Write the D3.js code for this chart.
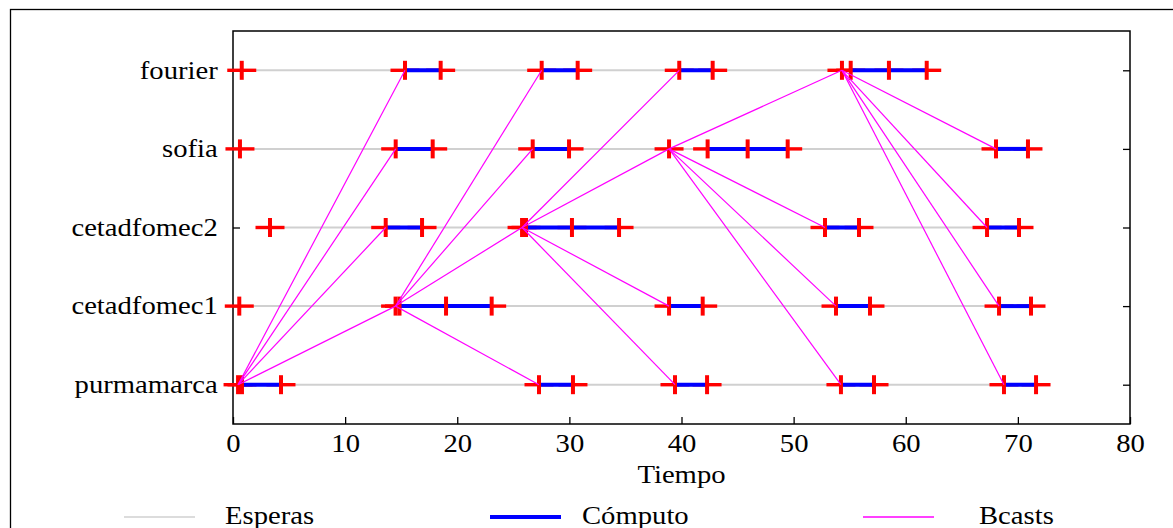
<!DOCTYPE html>
<html>
<head>
<meta charset="utf-8">
<script src="https://cdn.jsdelivr.net/npm/d3@7"></script>
<style>
    body { margin: 0; background: #fff; }
    text { font-family: "Liberation Serif", "Times New Roman", serif; fill: #000; }
</style>
</head>
<body>
<svg id="chart" width="1173" height="528"></svg>
<script>
// hosts, top to bottom
const hosts = ["fourier", "sofia", "cetadfomec2", "cetadfomec1", "purmamarca"];

// event marks (crosses) per host, in time units
const eventsFourier = [0.78, 15.34, 18.52, 27.53, 30.74, 39.8, 42.78, 54.31, 55.09, 58.5, 61.87];
const eventsSofia = [0.62, 14.51, 17.81, 26.73, 29.97, 38.89, 42.33, 45.9, 49.47, 68.05, 70.9];
const eventsCetad2 = [3.3, 13.62, 16.86, 25.78, 26.13, 30.23, 34.43, 52.8, 55.83, 67.25, 70.1];
const eventsCetad1 = [0.56, 14.5, 14.85, 19.0, 23.07, 38.89, 41.89, 53.78, 56.81, 68.32, 71.17];
const eventsPurma = [0.45, 0.8, 4.28, 27.29, 30.32, 39.42, 42.28, 54.22, 57.17, 68.76, 71.62];

// compute intervals per host
const computeFourier = [[15.34, 18.52], [27.53, 30.74], [39.8, 42.78], [55.09, 61.87]];
const computeSofia = [[14.51, 17.81], [26.73, 29.97], [42.33, 49.47], [68.05, 70.9]];
const computeCetad2 = [[13.62, 16.86], [26.13, 34.43], [52.8, 55.83], [67.25, 70.1]];
const computeCetad1 = [[14.85, 23.07], [38.89, 41.89], [53.78, 56.81], [68.32, 71.17]];
const computePurma = [[0.8, 4.28], [27.29, 30.32], [39.42, 42.28], [54.22, 57.17], [68.76, 71.62]];

// waiting span per host
const waitStart = [0.78, 0.62, 3.3, 0.56, 0.45];
const waitEnd = [61.87, 70.9, 70.1, 71.17, 71.62];

// broadcast messages
const bcastFrom = ["purmamarca", "purmamarca", "purmamarca", "purmamarca",
    "cetadfomec1", "cetadfomec1", "cetadfomec1", "cetadfomec1",
    "cetadfomec2", "cetadfomec2", "cetadfomec2", "cetadfomec2",
    "sofia", "sofia", "sofia", "sofia",
    "fourier", "fourier", "fourier", "fourier"];
const bcastSend = [0.45, 0.45, 0.45, 0.45,
    14.5, 14.5, 14.5, 14.5,
    25.78, 25.78, 25.78, 25.78,
    38.89, 38.89, 38.89, 38.89,
    54.31, 54.31, 54.31, 54.31];
const bcastTo = ["fourier", "sofia", "cetadfomec2", "cetadfomec1",
    "fourier", "sofia", "cetadfomec2", "purmamarca",
    "fourier", "sofia", "cetadfomec1", "purmamarca",
    "fourier", "cetadfomec2", "cetadfomec1", "purmamarca",
    "sofia", "cetadfomec2", "cetadfomec1", "purmamarca"];
const bcastRecv = [15.34, 14.51, 13.62, 14.5,
    27.53, 26.73, 25.78, 27.29,
    39.8, 38.89, 38.89, 39.42,
    54.31, 52.8, 53.78, 54.22,
    68.05, 67.25, 68.32, 68.76];

const xTicks = [0, 10, 20, 30, 40, 50, 60, 70, 80];
const legendLabels = ["Esperas", "Cómputo", "Bcasts"];

const events = [eventsFourier, eventsSofia, eventsCetad2, eventsCetad1, eventsPurma];
const compute = [computeFourier, computeSofia, computeCetad2, computeCetad1, computePurma];

const SX = 1.17; // horizontal stretch of the text
const FS = 24.5;

var svg = d3.select("#chart");

// outer frame
svg.append("rect")
    .attr("x", 10.5).attr("y", 9.5)
    .attr("width", 1200).attr("height", 600)
    .attr("fill", "none").attr("stroke", "#000").attr("stroke-width", 1.3);

var x = d3.scaleLinear().domain([0, 80]).range([233, 1130]);
var y = d3.scalePoint().domain(hosts).range([31, 424]).padding(0.5);

// axes
var gx = svg.append("g").attr("transform", "translate(0,424)")
    .call(d3.axisBottom(x).tickValues(xTicks).tickSizeInner(-7).tickSizeOuter(0).tickPadding(11));
var gy = svg.append("g").attr("transform", "translate(233,0)")
    .call(d3.axisLeft(y).tickSizeInner(-7).tickSizeOuter(0).tickPadding(13));
var gr = svg.append("g").attr("transform", "translate(1130,0)")
    .call(d3.axisRight(y).tickSizeInner(-7).tickSizeOuter(0).tickFormat(""));

[gx, gy, gr].forEach(function (g) {
    g.select(".domain").remove();
    g.selectAll(".tick line").attr("stroke", "#000").attr("stroke-width", 1.3);
    g.selectAll("text")
        .attr("font-size", FS)
        .attr("font-family", "Liberation Serif")
        .attr("fill", "#000")
        .attr("transform", "scale(" + SX + ",1)");
});

// plot frame
svg.append("rect")
    .attr("x", 233).attr("y", 31)
    .attr("width", x(80) - x(0)).attr("height", 424 - 31)
    .attr("fill", "none").attr("stroke", "#000").attr("stroke-width", 1.5);

var plot = svg.append("g");

// waits
plot.selectAll("line.wait")
    .data(hosts)
    .enter().append("line")
    .attr("class", "wait")
    .attr("x1", function (d, i) { return x(waitStart[i]); })
    .attr("x2", function (d, i) { return x(waitEnd[i]); })
    .attr("y1", function (d) { return y(d); })
    .attr("y2", function (d) { return y(d); })
    .attr("stroke", "#d0d0d0")
    .attr("stroke-width", 2);

// crosses, horizontal arms (under the compute bars)
hosts.forEach(function (h, i) {
    plot.selectAll(null)
        .data(events[i])
        .enter().append("line")
        .attr("x1", function (d) { return x(d) - 14.5; })
        .attr("x2", function (d) { return x(d) + 14.5; })
        .attr("y1", y(h)).attr("y2", y(h))
        .attr("stroke", "#ff0000").attr("stroke-width", 3.4);
});

// compute
hosts.forEach(function (h, i) {
    plot.selectAll(null)
        .data(compute[i])
        .enter().append("line")
        .attr("x1", function (d) { return x(d[0]); })
        .attr("x2", function (d) { return x(d[1]); })
        .attr("y1", y(h))
        .attr("y2", y(h))
        .attr("stroke", "#0000ff")
        .attr("stroke-width", 4);
});

// crosses, vertical arms
hosts.forEach(function (h, i) {
    plot.selectAll(null)
        .data(events[i])
        .enter().append("line")
        .attr("x1", function (d) { return x(d); })
        .attr("x2", function (d) { return x(d); })
        .attr("y1", y(h) - 9.5).attr("y2", y(h) + 9.5)
        .attr("stroke", "#ff0000").attr("stroke-width", 4);
});

// broadcasts
plot.selectAll("line.bcast")
    .data(bcastFrom)
    .enter().append("line")
    .attr("class", "bcast")
    .attr("x1", function (d, i) { return x(bcastSend[i]); })
    .attr("y1", function (d) { return y(d); })
    .attr("x2", function (d, i) { return x(bcastRecv[i]); })
    .attr("y2", function (d, i) { return y(bcastTo[i]); })
    .attr("stroke", "#ff00ff")
    .attr("stroke-width", 1.2);

// x label
svg.append("text")
    .attr("transform", "translate(" + ((x(0) + x(80)) / 2) + ",483) scale(" + SX + ",1)")
    .attr("text-anchor", "middle")
    .attr("font-size", FS)
    .text("Tiempo");

// legend
var legLineX = [124, 490, 863];
var legTextX = [225, 582, 979];
var legColor = ["#d0d0d0", "#0000ff", "#ff00ff"];
var legWidth = [1.5, 4, 1.5];
var leg = svg.selectAll("g.leg")
    .data(legendLabels)
    .enter().append("g")
    .attr("class", "leg");
leg.append("line")
    .attr("x1", function (d, i) { return legLineX[i]; })
    .attr("x2", function (d, i) { return legLineX[i] + 71; })
    .attr("y1", 517).attr("y2", 517)
    .attr("stroke", function (d, i) { return legColor[i]; })
    .attr("stroke-width", function (d, i) { return legWidth[i]; });
leg.append("text")
    .attr("transform", function (d, i) { return "translate(" + legTextX[i] + ",524) scale(" + SX + ",1)"; })
    .attr("font-size", FS)
    .text(function (d) { return d; });
</script>
</body>
</html>
